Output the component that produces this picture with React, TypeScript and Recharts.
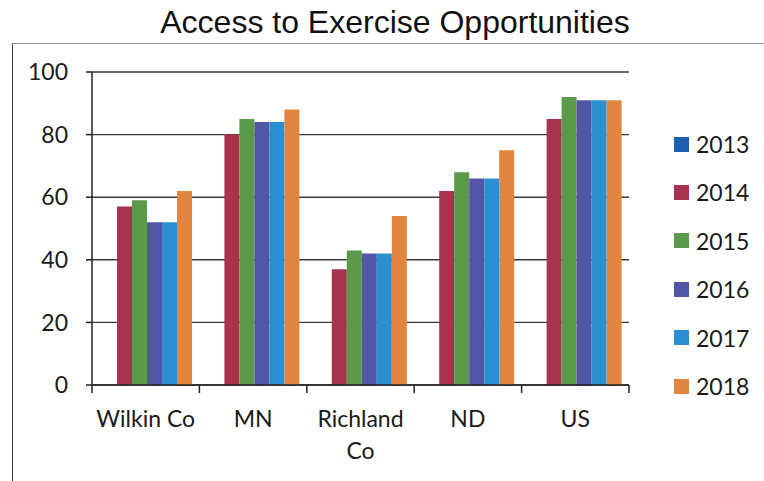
import { BarChart, Bar, XAxis, YAxis, CartesianGrid } from 'recharts'

const places = ['Wilkin Co', 'MN', 'Richland Co', 'ND', 'US']
const years = ['2013', '2014', '2015', '2016', '2017', '2018']

// percent with adequate access, by year (2013 not reported)
const y2013: (number | null)[] = [null, null, null, null, null]
const y2014 = [57, 80, 37, 62, 85]
const y2015 = [59, 85, 43, 68, 92]
const y2016 = [52, 84, 42, 66, 91]
const y2017 = [52, 84, 42, 66, 91]
const y2018 = [62, 88, 54, 75, 91]

const yTicks = [0, 20, 40, 60, 80, 100]

const COLORS = ['#1f5fb3', '#a8334f', '#5b9a4b', '#5356a6', '#2c8fd2', '#e08640']

const seriesValues = [y2013, y2014, y2015, y2016, y2017, y2018]

const data = places.map((name, i) => {
  const row: Record<string, string | number | null> = { name }
  years.forEach((yr, s) => { row[yr] = seriesValues[s][i] })
  return row
})

const LABEL_FONT = 'Lato, "Open Sans", sans-serif'

// category label, wrapped onto two lines when long, plus tick marks on the band edges
function PlaceTick(props: any) {
  const { x, y, payload, index } = props
  const half = payload.offset ?? 0
  const text: string = payload.value
  const lines = text.length > 9 ? [text.slice(0, text.lastIndexOf(' ')), text.slice(text.lastIndexOf(' ') + 1)] : [text]
  return (
    <g>
      <line x1={x - half} x2={x - half} y1={y} y2={y + 8} stroke="#222" strokeWidth={1.5} />
      {index === places.length - 1 && (
        <line x1={x + half} x2={x + half} y1={y} y2={y + 8} stroke="#222" strokeWidth={1.5} />
      )}
      {lines.map((ln, k) => (
        <text
          key={k}
          x={x}
          y={y + 42 + k * 32}
          textAnchor="middle"
          fill="#1a1a1a"
          fontSize={23}
          fontFamily={LABEL_FONT}
        >
          {ln}
        </text>
      ))}
    </g>
  )
}

export default function App() {
  return (
    <div style={{ position: 'absolute', left: 0, top: 0, width: 764, height: 481, background: '#fff', overflow: 'hidden' }}>
      <div
        style={{
          position: 'absolute',
          left: 12,
          top: 43,
          right: -2,
          bottom: -2,
          borderTop: '1.5px solid #999',
          borderLeft: '1.5px solid #444',
        }}
      />
      <div
        style={{
          position: 'absolute',
          left: 0,
          width: 790,
          top: 4,
          textAlign: 'center',
          fontFamily: '"Liberation Sans", Arial, sans-serif',
          fontSize: 32,
          color: '#111',
        }}
      >
        Access to Exercise Opportunities
      </div>
      <div style={{ position: 'absolute', left: 0, top: 0 }}>
        <BarChart
          width={764}
          height={481}
          data={data}
          margin={{ top: 72, right: 135, left: 0, bottom: 0 }}
          barCategoryGap={10}
          barGap={0}
        >
          <CartesianGrid vertical={false} stroke="#3a3a3a" strokeWidth={1.4} />
          <YAxis
            domain={[0, 100]}
            ticks={yTicks}
            width={92}
            tickSize={6}
            tickMargin={18}
            axisLine={{ stroke: '#222', strokeWidth: 1.5 }}
            tickLine={{ stroke: '#222', strokeWidth: 1.5 }}
            tick={{ fill: '#1a1a1a', fontSize: 23, fontFamily: LABEL_FONT }}
          />
          <XAxis
            dataKey="name"
            height={96}
            tickSize={0}
            tickMargin={0}
            tickLine={false}
            axisLine={{ stroke: '#222', strokeWidth: 1.5 }}
            tick={<PlaceTick />}
            interval={0}
          />
          {years.map((yr, s) => (
            <Bar key={yr} dataKey={yr} fill={COLORS[s]} isAnimationActive={false} />
          ))}
        </BarChart>
      </div>
      {years.map((yr, s) => (
        <div
          key={yr}
          style={{
            position: 'absolute',
            left: 674,
            top: 130 + s * 48.4,
            height: 28,
            display: 'flex',
            alignItems: 'center',
            fontFamily: LABEL_FONT,
            fontSize: 23,
            color: '#1a1a1a',
          }}
        >
          <span style={{ width: 15, height: 15, background: COLORS[s], marginRight: 7, display: 'inline-block' }} />
          {yr}
        </div>
      ))}
    </div>
  )
}
